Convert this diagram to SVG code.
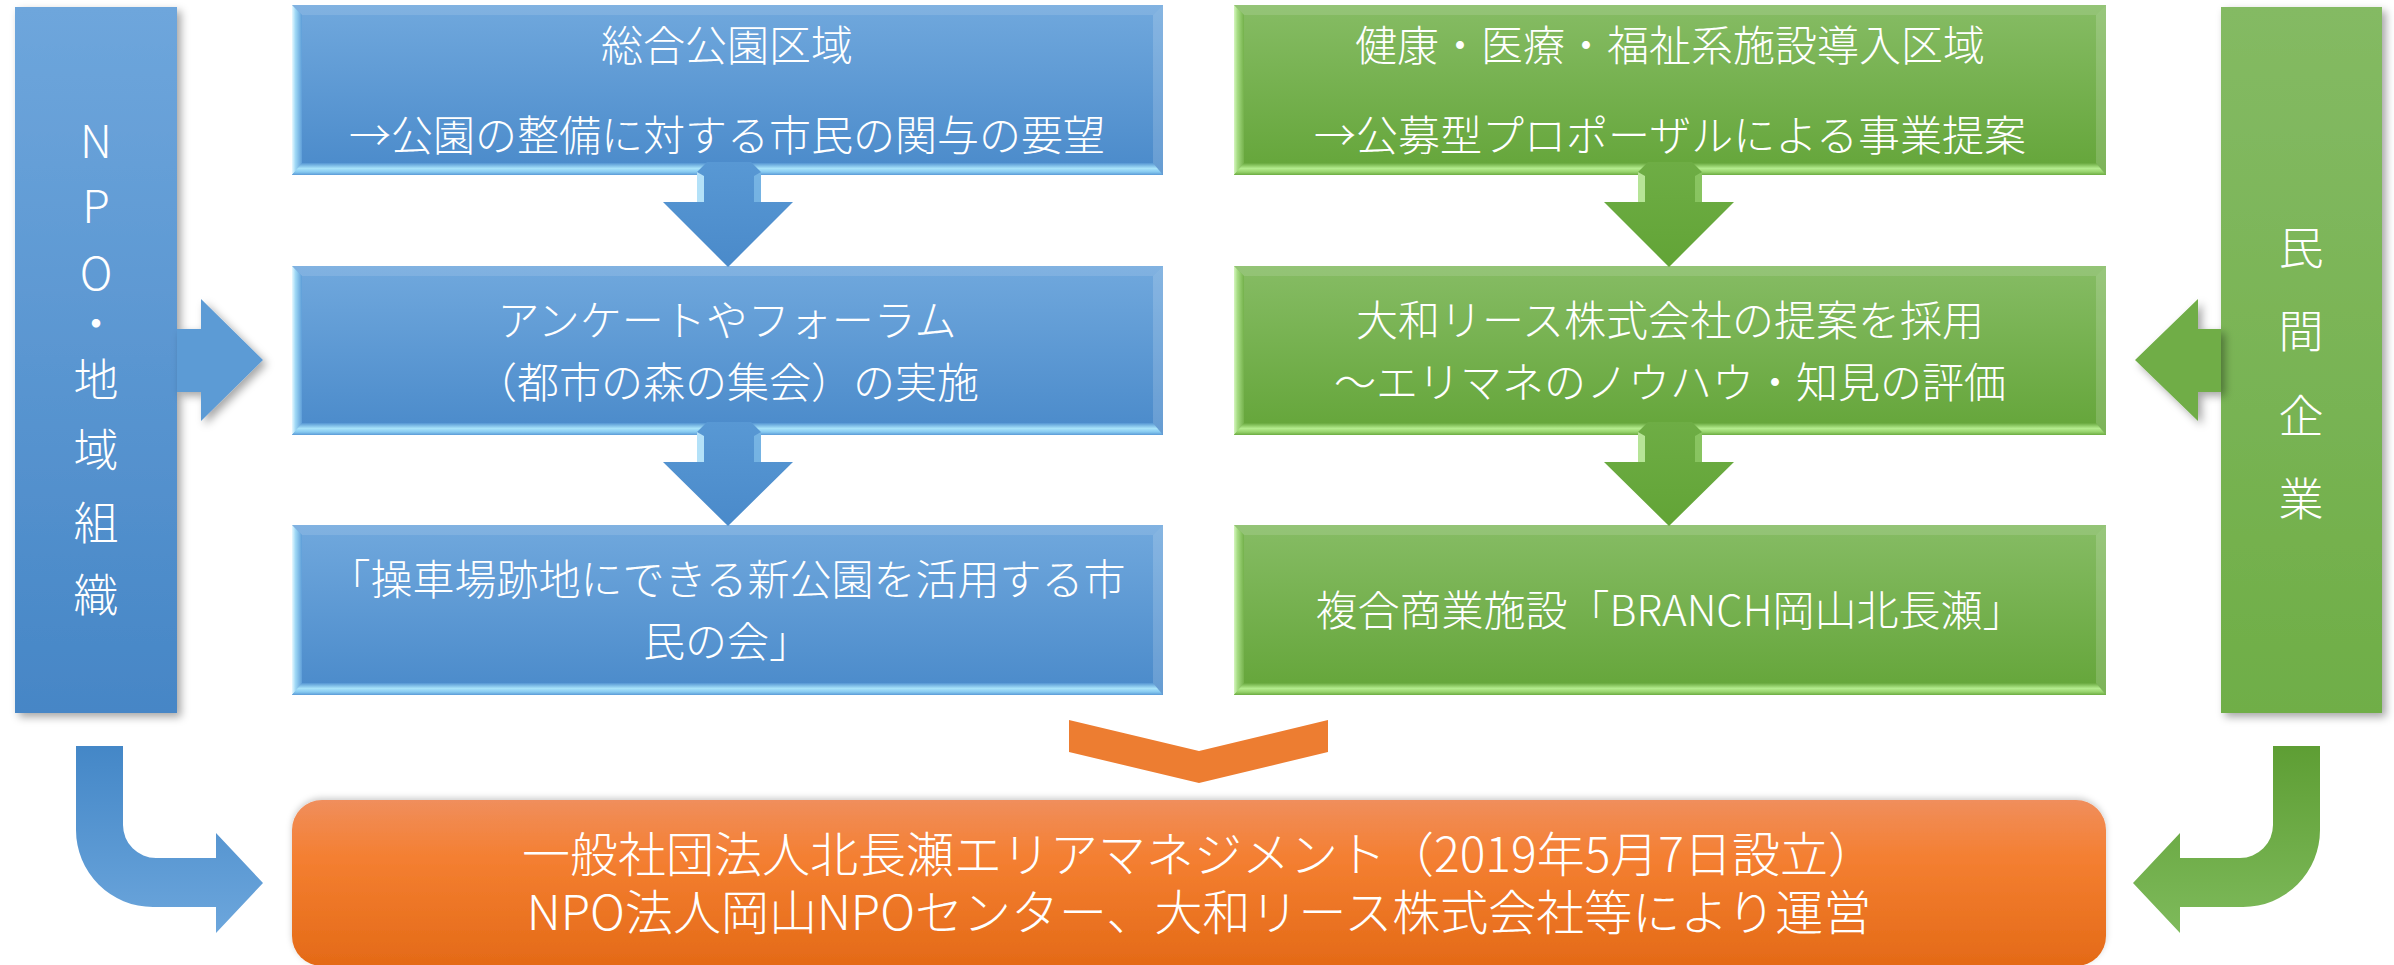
<svg xmlns="http://www.w3.org/2000/svg" width="2394" height="965" viewBox="0 0 2394 965">
<style>
.t{fill:#fff;font-family:"Noto Sans CJK JP","Noto Sans",sans-serif;font-weight:300;font-size:42px;text-anchor:middle;dominant-baseline:central}
.v{font-size:45px}
.o{font-size:48px}
.hiT{fill:#fff;opacity:.12}
.hiR{fill:#fff;opacity:.16}
</style>
<defs>
<linearGradient id="gBlue" x1="0" y1="0" x2="0" y2="1"><stop offset="0" stop-color="#70A8DD"/><stop offset="1" stop-color="#4A8ACA"/></linearGradient>
<linearGradient id="gGreen" x1="0" y1="0" x2="0" y2="1"><stop offset="0" stop-color="#86BC64"/><stop offset="1" stop-color="#64A539"/></linearGradient>
<linearGradient id="gBarB" x1="0" y1="0" x2="0" y2="1"><stop offset="0" stop-color="#6EA6DC"/><stop offset="1" stop-color="#4686C6"/></linearGradient>
<linearGradient id="gBarG" x1="0" y1="0" x2="0" y2="1"><stop offset="0" stop-color="#84BA63"/><stop offset="1" stop-color="#6FAE47"/></linearGradient>
<linearGradient id="gOr" x1="0" y1="0" x2="0" y2="1"><stop offset="0" stop-color="#F08E5C"/><stop offset="0.35" stop-color="#F47F31"/><stop offset="1" stop-color="#E46A17"/></linearGradient>
<linearGradient id="gBentB" x1="0" y1="0" x2="0" y2="1"><stop offset="0" stop-color="#4487C7"/><stop offset="1" stop-color="#6CA6DC"/></linearGradient>
<linearGradient id="gBentG" x1="0" y1="0" x2="0" y2="1"><stop offset="0" stop-color="#5E9E34"/><stop offset="1" stop-color="#7EBA5B"/></linearGradient>
<linearGradient id="bevBB" x1="0" y1="0" x2="0" y2="1"><stop offset="0" stop-color="#5596D3"/><stop offset="0.45" stop-color="#A8E3FA"/><stop offset="0.75" stop-color="#86C9F0"/><stop offset="1" stop-color="#5A9AD6"/></linearGradient>
<linearGradient id="bevBL" x1="0" y1="0" x2="1" y2="0"><stop offset="0" stop-color="#E8F9FF"/><stop offset="0.35" stop-color="#9FD8F5"/><stop offset="1" stop-color="#5E9ED8"/></linearGradient>
<linearGradient id="bevGB" x1="0" y1="0" x2="0" y2="1"><stop offset="0" stop-color="#68A83E"/><stop offset="0.45" stop-color="#B4EC8E"/><stop offset="0.75" stop-color="#96D26C"/><stop offset="1" stop-color="#6BAB41"/></linearGradient>
<linearGradient id="bevGL" x1="0" y1="0" x2="1" y2="0"><stop offset="0" stop-color="#D5F6BE"/><stop offset="0.35" stop-color="#A6DC83"/><stop offset="1" stop-color="#74B14B"/></linearGradient>
<linearGradient id="gArB" x1="0" y1="0" x2="0" y2="1"><stop offset="0" stop-color="#5898D4"/><stop offset="1" stop-color="#4A8ACA"/></linearGradient>
<linearGradient id="gArG" x1="0" y1="0" x2="0" y2="1"><stop offset="0" stop-color="#6EAD45"/><stop offset="1" stop-color="#62A436"/></linearGradient>
<filter id="sh" x="-20%" y="-20%" width="140%" height="140%"><feDropShadow dx="4" dy="4" stdDeviation="4" flood-color="#000" flood-opacity="0.35"/></filter>
<filter id="shs" x="-5%" y="-20%" width="110%" height="140%"><feDropShadow dx="0" dy="-2" stdDeviation="3" flood-color="#000" flood-opacity="0.2"/></filter>
</defs>

<!-- side bars -->
<g id="npo">
<rect x="15" y="7" width="162" height="706" fill="url(#gBarB)" filter="url(#sh)"/>
<text class="t v"><tspan x="96" y="138">N</tspan><tspan x="96" y="203">P</tspan><tspan x="96" y="270">O</tspan><tspan x="96" y="321">・</tspan><tspan x="96" y="377">地</tspan><tspan x="96" y="447">域</tspan><tspan x="96" y="520">組</tspan><tspan x="96" y="592">織</tspan></text>
</g>
<g id="private">
<rect x="2221" y="7" width="161" height="706" fill="url(#gBarG)" filter="url(#sh)"/>
<text class="t v"><tspan x="2301" y="245">民</tspan><tspan x="2301" y="328">間</tspan><tspan x="2301" y="413">企</tspan><tspan x="2301" y="496">業</tspan></text>
</g>

<!-- blue boxes -->
<g id="b1">
<rect x="292" y="5" width="871" height="170" fill="url(#gBlue)"/>
<polygon class="hiT" points="292,5 1163,5 1153,15 302,15"/>
<polygon points="292,5 302,15 302,165 292,175" fill="url(#bevBL)"/>
<polygon class="hiR" points="1163,5 1163,175 1153,165 1153,15"/>
<polygon points="292,175 1163,175 1153,163 302,163" fill="url(#bevBB)"/>
<text class="t"><tspan x="727" y="42">総合公園区域</tspan><tspan x="727" y="132">→公園の整備に対する市民の関与の要望</tspan></text>
</g>
<g id="b2">
<rect x="292" y="266" width="871" height="169" fill="url(#gBlue)"/>
<polygon class="hiT" points="292,266 1163,266 1153,276 302,276"/>
<polygon points="292,266 302,276 302,425 292,435" fill="url(#bevBL)"/>
<polygon class="hiR" points="1163,266 1163,435 1153,425 1153,276"/>
<polygon points="292,435 1163,435 1153,423 302,423" fill="url(#bevBB)"/>
<text class="t"><tspan x="727" y="317">アンケートやフォーラム</tspan><tspan x="727" y="379">（都市の森の集会）の実施</tspan></text>
</g>
<g id="b3">
<rect x="292" y="525" width="871" height="170" fill="url(#gBlue)"/>
<polygon class="hiT" points="292,525 1163,525 1153,535 302,535"/>
<polygon points="292,525 302,535 302,685 292,695" fill="url(#bevBL)"/>
<polygon class="hiR" points="1163,525 1163,695 1153,685 1153,535"/>
<polygon points="292,695 1163,695 1153,683 302,683" fill="url(#bevBB)"/>
<text class="t"><tspan x="727" y="576">「操車場跡地にできる新公園を活用する市</tspan><tspan x="727" y="638">民の会」</tspan></text>
</g>

<!-- green boxes -->
<g id="g1">
<rect x="1234" y="5" width="872" height="170" fill="url(#gGreen)"/>
<polygon class="hiT" points="1234,5 2106,5 2096,15 1244,15"/>
<polygon points="1234,5 1244,15 1244,165 1234,175" fill="url(#bevGL)"/>
<polygon class="hiR" points="2106,5 2106,175 2096,165 2096,15"/>
<polygon points="1234,175 2106,175 2096,163 1244,163" fill="url(#bevGB)"/>
<text class="t"><tspan x="1670" y="42">健康・医療・福祉系施設導入区域</tspan><tspan x="1670" y="132">→公募型プロポーザルによる事業提案</tspan></text>
</g>
<g id="g2">
<rect x="1234" y="266" width="872" height="169" fill="url(#gGreen)"/>
<polygon class="hiT" points="1234,266 2106,266 2096,276 1244,276"/>
<polygon points="1234,266 1244,276 1244,425 1234,435" fill="url(#bevGL)"/>
<polygon class="hiR" points="2106,266 2106,435 2096,425 2096,276"/>
<polygon points="1234,435 2106,435 2096,423 1244,423" fill="url(#bevGB)"/>
<text class="t"><tspan x="1670" y="317">大和リース株式会社の提案を採用</tspan><tspan x="1670" y="379">～エリマネのノウハウ・知見の評価</tspan></text>
</g>
<g id="g3">
<rect x="1234" y="525" width="872" height="170" fill="url(#gGreen)"/>
<polygon class="hiT" points="1234,525 2106,525 2096,535 1244,535"/>
<polygon points="1234,525 1244,535 1244,685 1234,695" fill="url(#bevGL)"/>
<polygon class="hiR" points="2106,525 2106,695 2096,685 2096,535"/>
<polygon points="1234,695 2106,695 2096,683 1244,683" fill="url(#bevGB)"/>
<text class="t" x="1670" y="607">複合商業施設「BRANCH岡山北長瀬」</text>
</g>

<!-- bottom box -->
<g id="org">
<rect x="292" y="800" width="1814" height="166" rx="30" fill="url(#gOr)" filter="url(#shs)"/>
<text class="t o"><tspan x="1199" y="851">一般社団法人北長瀬エリアマネジメント（2019年5月7日設立）</tspan><tspan x="1199" y="909">NPO法人岡山NPOセンター、大和リース株式会社等により運営</tspan></text>
</g>

<!-- connectors -->
<g id="connectors">
<polygon points="177,329 201,329 201,299 263,360 201,421 201,392 177,392" fill="#5B9BD5" filter="url(#sh)"/>
<polygon points="2221,329 2198,329 2198,299 2135,360 2198,421 2198,392 2221,392" fill="#70AD47" filter="url(#sh)"/>

<path d="M697,172 L707,162 L751,162 L761,172 V202 H793 L728,267 L663,202 H697 Z" fill="url(#gArB)"/>
<polygon points="697,172 704,176 704,202 697,202" fill="#C4EEFF" opacity="0.85"/>
<polygon points="761,172 754,176 754,202 761,202" fill="#8CC8EE" opacity="0.6"/>
<path d="M697,432 L707,422 L751,422 L761,432 V462 H793 L728,526 L663,462 H697 Z" fill="url(#gArB)"/>
<polygon points="697,432 704,436 704,462 697,462" fill="#C4EEFF" opacity="0.85"/>
<polygon points="761,432 754,436 754,462 761,462" fill="#8CC8EE" opacity="0.6"/>

<path d="M1638,172 L1648,162 L1692,162 L1702,172 V202 H1734 L1669,267 L1604,202 H1638 Z" fill="url(#gArG)"/>
<polygon points="1638,172 1645,176 1645,202 1638,202" fill="#C9F2AC" opacity="0.8"/>
<polygon points="1702,172 1695,176 1695,202 1702,202" fill="#9CD676" opacity="0.6"/>
<path d="M1638,432 L1648,422 L1692,422 L1702,432 V462 H1734 L1669,526 L1604,462 H1638 Z" fill="url(#gArG)"/>
<polygon points="1638,432 1645,436 1645,462 1638,462" fill="#C9F2AC" opacity="0.8"/>
<polygon points="1702,432 1695,436 1695,462 1702,462" fill="#9CD676" opacity="0.6"/>

<polygon points="1069,720 1199,751 1328,720 1328,752 1199,783 1069,752" fill="#ED7D31"/>

<path d="M76,746 H123 V825 A33,33 0 0 0 156,858 H216 V833 L263,883 L216,933 V907 H153 A77,77 0 0 1 76,830 Z" fill="url(#gBentB)"/>
<path d="M2320,746 H2273 V825 A33,33 0 0 1 2240,858 H2180 V833 L2133,883 L2180,933 V907 H2243 A77,77 0 0 0 2320,830 Z" fill="url(#gBentG)"/>
</g>
</svg>
